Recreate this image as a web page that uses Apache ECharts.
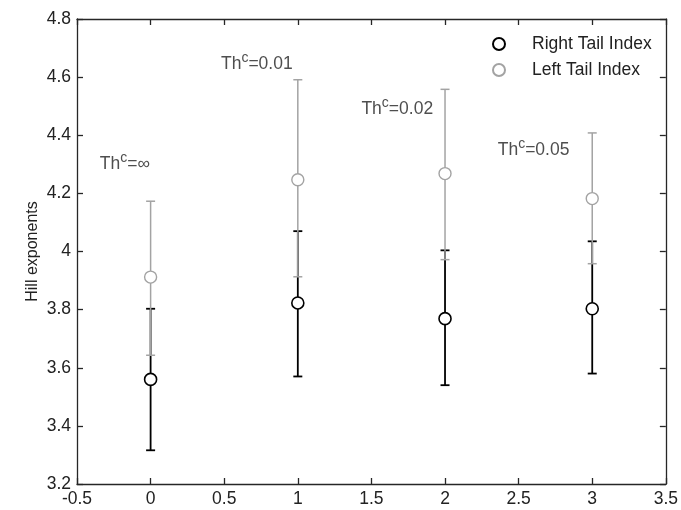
<!DOCTYPE html>
<html>
<head>
<meta charset="utf-8">
<script src="https://cdn.jsdelivr.net/npm/echarts@6/dist/echarts.min.js"></script>
<style>
  html, body { margin: 0; padding: 0; background: #fff; }
  #chart { width: 681px; height: 510px; }
</style>
</head>
<body>
<div id="chart"></div>
<script>
// Threshold positions on the x axis
const xPositions = [0, 1, 2, 3];

// Right tail Hill index: estimate and error-bar bounds
const rightMean = [3.560, 3.823, 3.769, 3.803];
const rightLow  = [3.316, 3.570, 3.540, 3.580];
const rightHigh = [3.803, 4.070, 4.004, 4.035];

// Left tail Hill index: estimate and error-bar bounds
const leftMean = [3.912, 4.247, 4.268, 4.182];
const leftLow  = [3.643, 3.913, 3.972, 3.958];
const leftHigh = [4.173, 4.591, 4.558, 4.408];

// Threshold annotations (value text and anchor in data units)
const thresholdTexts = ['∞', '0.01', '0.02', '0.05'];
const thresholdAnchors = [[-0.345, 4.300], [0.478, 4.645], [1.432, 4.490], [2.358, 4.348]];

const xTicks = { min: -0.5, max: 3.5, interval: 0.5 };
const yTicks = { min: 3.2, max: 4.8, interval: 0.2 };

const FONT = '"Liberation Sans", Arial, sans-serif';
const FS = 17.5;
const TEXT = '#222222';
const DARK = '#000000';
const GRAY = '#a3a3a3';
const AXIS = '#262626';

function errorBarData(lo, hi) {
  return xPositions.map((x, i) => [x, lo[i], hi[i]]);
}

function makeErrorRender(color, width) {
  return function (params, api) {
    const x = api.value(0);
    const pLo = api.coord([x, api.value(1)]);
    const pHi = api.coord([x, api.value(2)]);
    const half = 4.5;
    const style = { stroke: color, lineWidth: width, fill: null };
    return {
      type: 'group',
      children: [
        { type: 'line', shape: { x1: pLo[0], y1: pLo[1], x2: pHi[0], y2: pHi[1] }, style },
        { type: 'line', shape: { x1: pLo[0] - half, y1: pLo[1], x2: pLo[0] + half, y2: pLo[1] }, style },
        { type: 'line', shape: { x1: pHi[0] - half, y1: pHi[1], x2: pHi[0] + half, y2: pHi[1] }, style }
      ]
    };
  };
}

const axisCommon = {
  axisLine: { show: true, onZero: false, lineStyle: { color: AXIS, width: 1.3 } },
  axisTick: { show: true, inside: true, length: 6, lineStyle: { color: AXIS, width: 1.3 } },
  splitLine: { show: false }
};

const tickLabel = { color: TEXT, fontFamily: FONT, fontSize: FS };

const chart = echarts.init(document.getElementById('chart'), null, { renderer: 'canvas' });

const option = {
  backgroundColor: '#ffffff',
  animation: false,
  grid: { left: 77, right: 12, top: 19, bottom: 26, containLabel: false },
  xAxis: [
    Object.assign({
      type: 'value', position: 'bottom',
      min: xTicks.min, max: xTicks.max, interval: xTicks.interval,
      axisLabel: Object.assign({ margin: 6 }, tickLabel)
    }, axisCommon),
    Object.assign({
      type: 'value', position: 'top',
      min: xTicks.min, max: xTicks.max, interval: xTicks.interval,
      axisLabel: { show: false }
    }, axisCommon)
  ],
  yAxis: [
    Object.assign({
      type: 'value', position: 'left',
      min: yTicks.min, max: yTicks.max, interval: yTicks.interval,
      name: 'Hill exponents', nameLocation: 'middle', nameGap: 36,
      nameMoveOverlap: false,
      nameTextStyle: { color: TEXT, fontFamily: FONT, fontSize: 16 },
      axisLabel: Object.assign({ margin: 6 }, tickLabel)
    }, axisCommon),
    Object.assign({
      type: 'value', position: 'right',
      min: yTicks.min, max: yTicks.max, interval: yTicks.interval,
      axisLabel: { show: false }
    }, axisCommon)
  ],
  legend: {
    orient: 'vertical', left: 492, top: 34, padding: 0,
    itemWidth: 12, itemHeight: 12, itemGap: 6,
    data: ['Right Tail Index', 'Left Tail Index'],
    textStyle: { color: TEXT, fontFamily: FONT, fontSize: FS, lineHeight: 20, padding: [0, 0, 0, 22] }
  },
  series: [
    {
      type: 'custom', name: 'rightErr', silent: true, z: 2,
      renderItem: makeErrorRender(DARK, 1.8),
      data: errorBarData(rightLow, rightHigh)
    },
    {
      type: 'custom', name: 'leftErr', silent: true, z: 3,
      renderItem: makeErrorRender(GRAY, 1.5),
      data: errorBarData(leftLow, leftHigh)
    },
    {
      type: 'scatter', name: 'Right Tail Index', z: 4,
      symbol: 'circle', symbolSize: 12,
      itemStyle: { color: '#ffffff', borderColor: DARK, borderWidth: 1.6, opacity: 1 },
      data: xPositions.map((x, i) => [x, rightMean[i]])
    },
    {
      type: 'scatter', name: 'Left Tail Index', z: 5,
      symbol: 'circle', symbolSize: 12,
      itemStyle: { color: '#ffffff', borderColor: GRAY, borderWidth: 1.4, opacity: 1 },
      data: xPositions.map((x, i) => [x, leftMean[i]])
    },
    {
      type: 'scatter', name: 'thresholds', silent: true, z: 6,
      symbolSize: 0,
      data: thresholdAnchors.map((p, i) => ({ value: p, text: thresholdTexts[i] })),
      label: {
        show: true, position: 'right', distance: 0,
        formatter: (p) => '{b|Th}{s|c}{b|=' + p.data.text + '}',
        rich: {
          b: { color: TEXT, fontFamily: FONT, fontSize: FS, lineHeight: 26 },
          s: { color: TEXT, fontFamily: FONT, fontSize: 14, lineHeight: 14, verticalAlign: 'top' }
        }
      }
    }
  ]
};

chart.setOption(option);
</script>
</body>
</html>
